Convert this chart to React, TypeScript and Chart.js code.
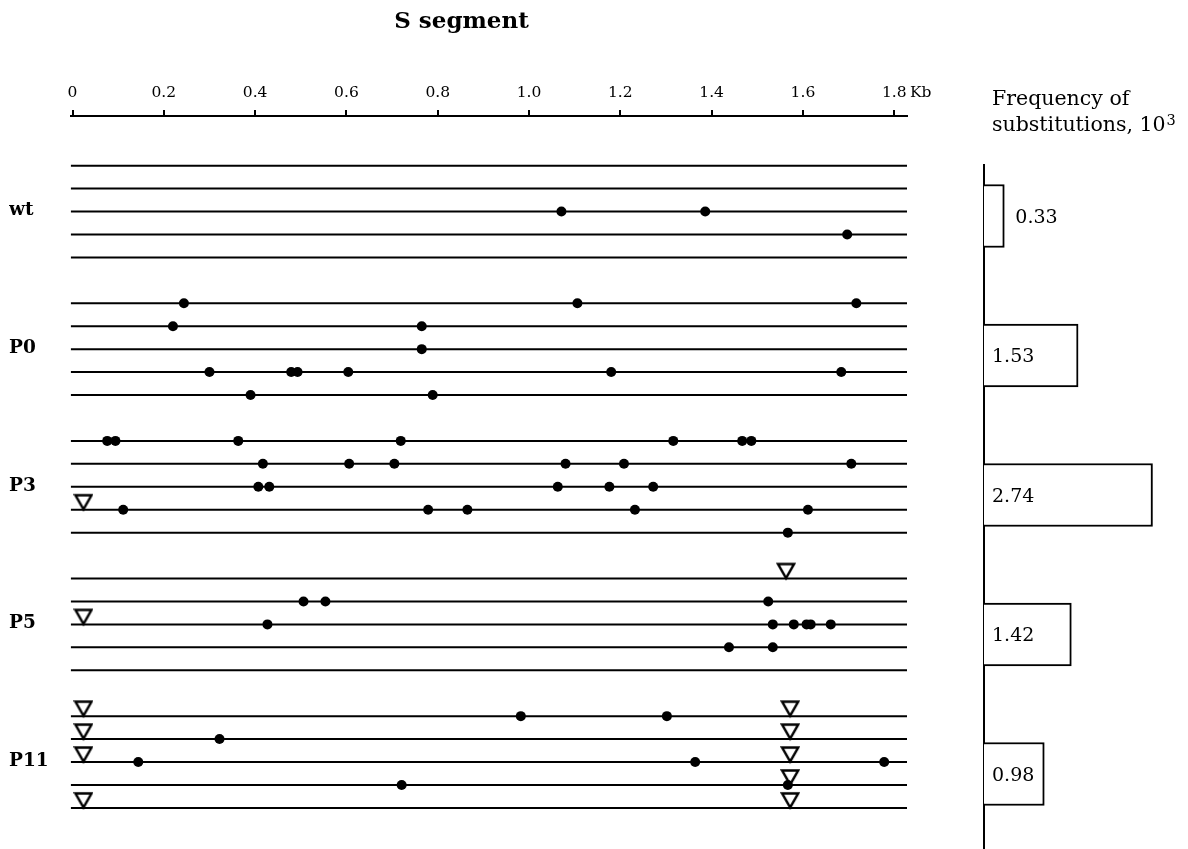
import React, { useEffect, useRef } from 'react';
import { Chart, registerables } from 'chart.js';

Chart.register(...registerables);

const FONT = '"DejaVu Serif", "Liberation Serif", serif';

// ---------------- data ----------------
const chartTitle = 'S segment';
const xTickValues = [0, 0.2, 0.4, 0.6, 0.8, 1.0, 1.2, 1.4, 1.6, 1.8];
const xTickLabels = ['0', '0.2', '0.4', '0.6', '0.8', '1.0', '1.2', '1.4', '1.6', '1.8'];
const xUnit = 'Kb';
const segmentStart = -0.004;
const segmentEnd = 1.828;

const groups = ['wt', 'P0', 'P3', 'P5', 'P11'];

// substitution positions (kb), five clones per group
const wtSubstitutions = [[], [], [1.071, 1.386], [1.697], []];
const p0Substitutions = [
  [0.244, 1.106, 1.717],
  [0.22, 0.765],
  [0.765],
  [0.3, 0.479, 0.493, 0.604, 1.18, 1.684],
  [0.39, 0.789],
];
const p3Substitutions = [
  [0.076, 0.094, 0.363, 0.719, 1.316, 1.467, 1.487],
  [0.417, 0.606, 0.705, 1.08, 1.208, 1.706],
  [0.407, 0.431, 1.063, 1.176, 1.272],
  [0.111, 0.779, 0.865, 1.232, 1.611],
  [1.567],
];
const p5Substitutions = [
  [],
  [0.506, 0.554, 1.524],
  [0.427, 1.534, 1.58, 1.608, 1.617, 1.661],
  [1.438, 1.534],
  [],
];
const p11Substitutions = [
  [0.982, 1.302],
  [0.322],
  [0.144, 1.364, 1.778],
  [0.721, 1.567],
  [],
];

// deletion positions (kb), open triangles
const wtDeletions = [[], [], [], [], []];
const p0Deletions = [[], [], [], [], []];
const p3Deletions = [[], [], [], [0.024], []];
const p5Deletions = [[1.563], [], [0.024], [], []];
const p11Deletions = [[0.024, 1.572], [0.024, 1.572], [0.024, 1.572], [1.572], [0.024, 1.572]];

const frequencyTitle = ['Frequency of', 'substitutions, 10'];
const frequencyExponent = '3';
const frequencies = [0.33, 1.53, 2.74, 1.42, 0.98];

// ---------------- layout ----------------
const MAIN_W = 940;
const BAR_W = 248;
const H = 849;
const ROWS_PER_GROUP = 6;
const CLONES = 5;
const ROW_PX = 23.1;
const FIRST_ROW_PX = 166;
const AXIS_PX = 116;
const MAIN_BOTTOM = 840;
const TICK_LEN = 6;
const TICK_PAD = 8;
const TICK_FONT = 15.5;

const substitutionsByGroup = [wtSubstitutions, p0Substitutions, p3Substitutions, p5Substitutions, p11Substitutions];
const deletionsByGroup = [wtDeletions, p0Deletions, p3Deletions, p5Deletions, p11Deletions];

function makeTriangle(): HTMLCanvasElement {
  const w = 20;
  const h = 16;
  const c = document.createElement('canvas');
  c.width = w;
  c.height = 2 * h + 2;
  const ctx = c.getContext('2d')!;
  const tipY = c.height / 2;
  ctx.beginPath();
  ctx.moveTo(2, tipY - h + 1.5);
  ctx.lineTo(w - 2, tipY - h + 1.5);
  ctx.lineTo(w / 2, tipY - 0.5);
  ctx.closePath();
  ctx.lineWidth = 2.5;
  ctx.strokeStyle = '#000';
  ctx.stroke();
  return c;
}

export default function App() {
  const mainRef = useRef<HTMLCanvasElement>(null);
  const barRef = useRef<HTMLCanvasElement>(null);

  useEffect(() => {
    const rowY = (g: number, r: number) => g * ROWS_PER_GROUP + r;
    const datasets: any[] = [];

    groups.forEach((_, g) => {
      for (let r = 0; r < CLONES; r++) {
        const y = rowY(g, r);
        datasets.push({
          data: [
            { x: segmentStart, y },
            { x: segmentEnd, y },
          ],
          showLine: true,
          borderColor: '#000',
          borderWidth: 2,
          pointRadius: 0,
          order: 3,
        });
      }
    });

    const dots: any[] = [];
    substitutionsByGroup.forEach((rows, g) =>
      rows.forEach((xs, r) => xs.forEach((x) => dots.push({ x, y: rowY(g, r) })))
    );
    datasets.push({
      data: dots,
      showLine: false,
      pointStyle: 'circle',
      pointRadius: 5,
      pointBackgroundColor: '#000',
      backgroundColor: '#000',
      pointBorderWidth: 0,
      order: 2,
    });

    const tris: any[] = [];
    deletionsByGroup.forEach((rows, g) =>
      rows.forEach((xs, r) => xs.forEach((x) => tris.push({ x, y: rowY(g, r) })))
    );
    datasets.push({
      data: tris,
      showLine: false,
      pointStyle: makeTriangle(),
      pointRadius: 8,
      order: 1,
    });

    const yMin = (AXIS_PX - FIRST_ROW_PX) / ROW_PX;
    const yMax = (MAIN_BOTTOM - FIRST_ROW_PX) / ROW_PX;

    const mainPlugin = {
      id: 'mainText',
      afterDraw(chart: any) {
        const ctx = chart.ctx;
        const xs = chart.scales.x;
        ctx.save();
        ctx.fillStyle = '#000';
        ctx.font = `${TICK_FONT}px ${FONT}`;
        const last = xTickValues[xTickValues.length - 1];
        const lastLabel = xTickLabels[xTickLabels.length - 1];
        const px = xs.getPixelForValue(last) + ctx.measureText(lastLabel).width / 2 + ctx.measureText(' ').width * 0.7;
        const y = xs.bottom - TICK_LEN - TICK_PAD - (TICK_FONT * 1.2) / 2;
        ctx.textAlign = 'left';
        ctx.textBaseline = 'middle';
        ctx.fillText(xUnit, px, y);
        ctx.font = `bold 23px ${FONT}`;
        ctx.textAlign = 'center';
        ctx.textBaseline = 'alphabetic';
        ctx.fillText(chartTitle, 461.5, 28);
        ctx.restore();
      },
    };

    const main = new Chart(mainRef.current!, {
      type: 'scatter',
      data: { datasets },
      plugins: [mainPlugin],
      options: {
        responsive: false,
        animation: false,
        events: [],
        layout: { padding: { left: 9, right: MAIN_W - 907, top: 0, bottom: H - MAIN_BOTTOM } },
        plugins: { legend: { display: false }, tooltip: { enabled: false }, title: { display: false } },
        scales: {
          x: {
            type: 'linear',
            position: 'top',
            min: segmentStart,
            max: segmentEnd,
            afterBuildTicks: (s: any) => {
              s.ticks = xTickValues.map((v) => ({ value: v }));
            },
            afterFit: (s: any) => {
              s.height = AXIS_PX;
            },
            ticks: {
              autoSkip: false,
              maxRotation: 0,
              minRotation: 0,
              padding: TICK_PAD,
              color: '#000',
              font: { family: FONT, size: TICK_FONT },
              callback: (_v: any, i: number) => xTickLabels[i],
            },
            grid: {
              display: true,
              drawOnChartArea: false,
              drawTicks: true,
              tickLength: TICK_LEN,
              color: '#000',
              lineWidth: 2,
            },
            border: { display: true, color: '#000', width: 2 },
          },
          y: {
            type: 'linear',
            reverse: true,
            min: yMin,
            max: yMax,
            afterBuildTicks: (s: any) => {
              s.ticks = groups.map((_, i) => ({ value: rowY(i, 2) }));
            },
            afterFit: (s: any) => {
              s.width = 61.7;
            },
            ticks: {
              autoSkip: false,
              crossAlign: 'far',
              labelOffset: -1,
              color: '#000',
              font: { family: FONT, size: 18.5, weight: 'bold' },
              callback: (_v: any, i: number) => groups[i],
            },
            grid: { display: false },
            border: { display: false },
          },
        },
      } as any,
    });

    const BAR_Y0 = 216;
    const BAR_STEP = 139.5;
    const BAR_TOP = 165;
    const BAR_LEFT = 44;

    const barPlugin = {
      id: 'barText',
      afterDraw(chart: any) {
        const ctx = chart.ctx;
        const meta = chart.getDatasetMeta(0);
        ctx.save();
        ctx.fillStyle = '#000';
        ctx.font = `19px ${FONT}`;
        ctx.textAlign = 'left';
        ctx.textBaseline = 'middle';
        meta.data.forEach((bar: any, i: number) => {
          const label = frequencies[i].toFixed(2);
          const w = ctx.measureText(label).width;
          const inside = bar.x - bar.base > w + 14;
          const x = inside ? bar.base + 8 : bar.x + 11;
          ctx.fillText(label, x, bar.y + 2);
        });
        ctx.textBaseline = 'alphabetic';
        ctx.font = `20.5px ${FONT}`;
        const hx = chart.chartArea.left + 8;
        ctx.fillText(frequencyTitle[0], hx, 105);
        ctx.fillText(frequencyTitle[1], hx, 131);
        const w2 = ctx.measureText(frequencyTitle[1]).width;
        ctx.font = `14.5px ${FONT}`;
        ctx.fillText(frequencyExponent, hx + w2 + 1, 125);
        ctx.restore();
      },
    };

    const bar = new Chart(barRef.current!, {
      type: 'bar',
      data: {
        datasets: [
          {
            data: frequencies.map((v, i) => ({ x: v, y: i })),
            backgroundColor: '#fff',
            borderColor: '#000',
            borderWidth: 2,
            borderSkipped: 'start',
            barThickness: 63,
          },
        ],
      },
      plugins: [barPlugin],
      options: {
        indexAxis: 'y',
        responsive: false,
        animation: false,
        events: [],
        layout: { padding: { left: BAR_LEFT, top: BAR_TOP, right: 0, bottom: 0 } },
        plugins: { legend: { display: false }, tooltip: { enabled: false } },
        scales: {
          x: { type: 'linear', min: 0, max: (BAR_W - BAR_LEFT) / 61.5, display: false, offset: false },
          y: {
            type: 'linear',
            reverse: true,
            offset: false,
            bounds: 'data',
            grace: 0,
            min: (BAR_TOP - BAR_Y0) / BAR_STEP,
            max: (H - BAR_Y0) / BAR_STEP,
            ticks: { display: false },
            grid: { display: false, drawTicks: false, offset: false },
            border: { display: true, color: '#000', width: 2 },
            afterFit: (s: any) => {
              s.width = 0;
            },
          },
        },
      } as any,
    });

    return () => {
      main.destroy();
      bar.destroy();
    };
  }, []);

  return (
    <div style={{ position: 'absolute', left: 0, top: 0, width: MAIN_W + BAR_W, height: H, background: '#fff' }}>
      <canvas ref={mainRef} width={MAIN_W} height={H} style={{ position: 'absolute', left: 0, top: 0 }} />
      <canvas ref={barRef} width={BAR_W} height={H} style={{ position: 'absolute', left: MAIN_W, top: 0 }} />
    </div>
  );
}
